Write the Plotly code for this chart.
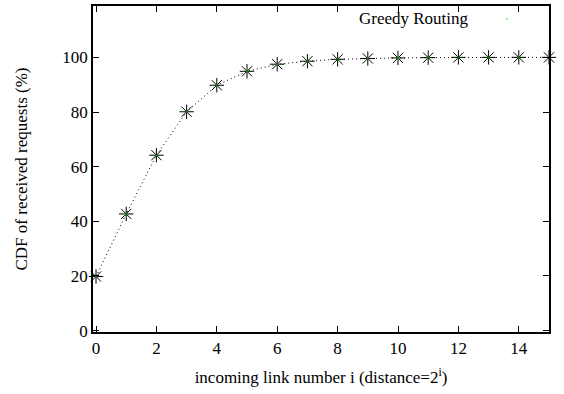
import plotly.graph_objects as go

link_number = list(range(16))
cdf_percent = [19.8, 42.7, 64.2, 80.1, 89.8, 94.9, 97.5, 98.6, 99.3, 99.6, 99.8, 99.9, 100, 100, 100, 100]
x_ticks = [0, 2, 4, 6, 8, 10, 12, 14]
y_ticks = [0, 20, 40, 60, 80, 100]
series_name = "Greedy Routing"

FONT = "Liberation Serif"

fig = go.Figure()
fig.add_trace(go.Scatter(
    x=link_number, y=cdf_percent, mode="lines+markers",
    line=dict(color="black", width=1, dash="1px,3px"),
    marker=dict(symbol="asterisk-open", size=12, line=dict(color="black", width=1), color="black"),
    showlegend=False, cliponaxis=False,
))
fig.add_trace(go.Scatter(
    x=link_number, y=cdf_percent, mode="markers",
    marker=dict(symbol="square", size=2, color="#009000", line=dict(width=0)),
    showlegend=False, cliponaxis=False,
))

axis_common = dict(
    showgrid=False, zeroline=False, showline=True, linecolor="black", linewidth=1.5,
    mirror="allticks", ticks="inside", ticklen=6, tickcolor="black", tickwidth=1,
    tickfont=dict(family=FONT, size=17, color="black"),
)

fig.update_layout(
    width=564, height=394,
    margin=dict(l=93, r=15, t=4, b=62),
    paper_bgcolor="white", plot_bgcolor="white",
    xaxis=dict(range=[-0.1, 15], tickvals=x_ticks,
               title=dict(text="incoming link number i (distance=2<sup>i</sup>)",
                          font=dict(family=FONT, size=17, color="black"), standoff=14),
               **axis_common),
    yaxis=dict(range=[-0.5, 118.8], tickvals=y_ticks,
               title=dict(text="CDF of received requests (%)",
                          font=dict(family=FONT, size=17, color="black"), standoff=30),
               **axis_common),
    annotations=[dict(text=series_name, xref="paper", yref="paper", x=0.829, y=0.962,
                      xanchor="right", yanchor="middle", showarrow=False,
                      font=dict(family=FONT, size=17, color="black"))],
    shapes=[dict(type="rect", xref="paper", yref="paper", x0=0.906, x1=0.909,
                 y0=0.958, y1=0.963, fillcolor="#40ff40", line=dict(width=0))],
)

fig.write_html("out.html")
